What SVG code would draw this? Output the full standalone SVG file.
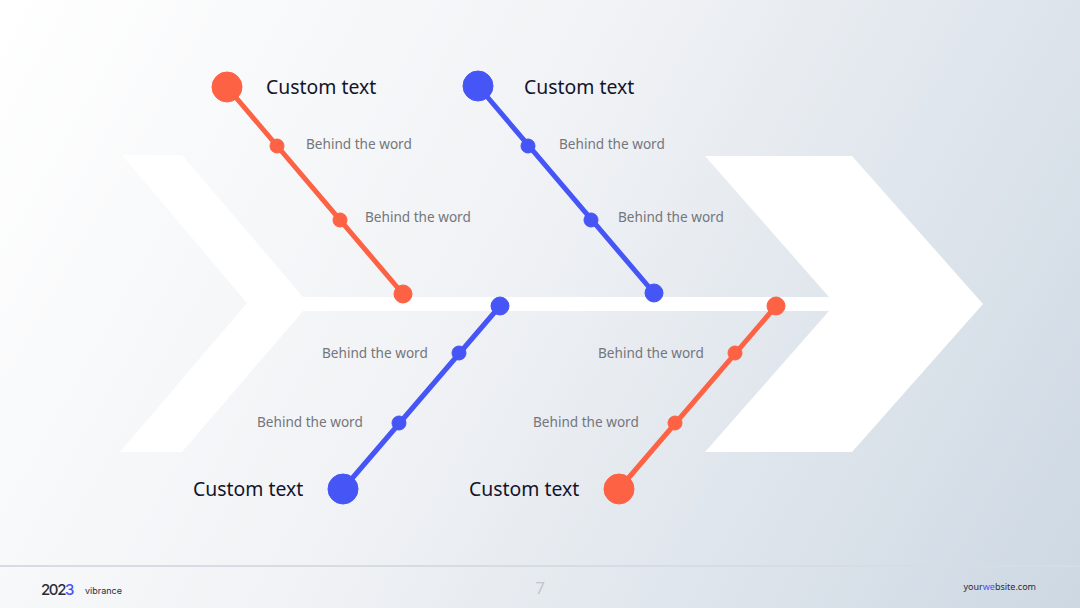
<svg xmlns="http://www.w3.org/2000/svg" width="1080" height="608" viewBox="0 0 1080 608">
<defs>
<linearGradient id="bg" x1="0" y1="0" x2="1080" y2="608" gradientUnits="userSpaceOnUse">
<stop offset="0" stop-color="#ffffff"/>
<stop offset="0.45" stop-color="#f0f2f5"/>
<stop offset="1" stop-color="#cdd8e3"/>
</linearGradient>
<style>
.lbl{font-family:"Noto Sans","Open Sans",sans-serif;font-size:13.6px;fill:#74767c}
.ttl{font-family:"Noto Sans","Open Sans",sans-serif;font-size:19.4px;fill:#14142b}
.o{stroke:#fd6244;fill:#fd6244}
.b{stroke:#4655f5;fill:#4655f5}
.ln{stroke-width:5;stroke-linecap:round}
</style>
</defs>
<rect x="0" y="0" width="1080" height="608" fill="url(#bg)"/>
<polygon points="122,155 182,155 303,297 829,297 705,156 852,156 983,304 852,452 705,452 829,311 303,311 182,452 120,452 247,303" fill="#ffffff"/>
<g id="connectors">
<line class="o ln" x1="227" y1="87" x2="403" y2="294"/>
<line class="b ln" x1="478" y1="86" x2="654" y2="293"/>
<line class="b ln" x1="500" y1="306" x2="343" y2="489"/>
<line class="o ln" x1="776" y1="306" x2="619" y2="489"/>
</g>
<g id="branch-top-orange">
<circle class="o" cx="227" cy="87" r="15"/>
<circle class="o" cx="277" cy="146" r="7"/>
<circle class="o" cx="340" cy="220" r="7"/>
<circle class="o" cx="403" cy="294" r="9"/>
<text class="ttl" x="266" y="94">Custom text</text>
<text class="lbl" x="306" y="149">Behind the word</text>
<text class="lbl" x="365" y="222">Behind the word</text>
</g>
<g id="branch-top-blue">
<circle class="b" cx="478" cy="86" r="15"/>
<circle class="b" cx="528" cy="146" r="7"/>
<circle class="b" cx="591" cy="220" r="7"/>
<circle class="b" cx="654" cy="293" r="9"/>
<text class="ttl" x="524" y="94">Custom text</text>
<text class="lbl" x="559" y="149">Behind the word</text>
<text class="lbl" x="618" y="222">Behind the word</text>
</g>
<g id="branch-bottom-blue">
<circle class="b" cx="500" cy="306" r="9"/>
<circle class="b" cx="459" cy="353" r="7"/>
<circle class="b" cx="399" cy="423" r="7"/>
<circle class="b" cx="343" cy="489" r="15"/>
<text class="lbl" x="322" y="358">Behind the word</text>
<text class="lbl" x="257" y="427">Behind the word</text>
<text class="ttl" x="193" y="496">Custom text</text>
</g>
<g id="branch-bottom-orange">
<circle class="o" cx="776" cy="306" r="9"/>
<circle class="o" cx="735" cy="353" r="7"/>
<circle class="o" cx="675" cy="423" r="7"/>
<circle class="o" cx="619" cy="489" r="15"/>
<text class="lbl" x="598" y="358">Behind the word</text>
<text class="lbl" x="533" y="427">Behind the word</text>
<text class="ttl" x="469" y="496">Custom text</text>
</g>
<g id="footer">
<line x1="0" y1="566" x2="1080" y2="566" stroke="#d5dce4" stroke-width="2"/>
<text x="41" y="595" font-family="Inter,'Noto Sans',sans-serif" font-size="15" font-weight="500" letter-spacing="-1.4" fill="#2a2c38">202<tspan fill="#4655f5">3</tspan></text>
<text x="85" y="594" font-family="Inter,'Noto Sans',sans-serif" font-size="9" fill="#2a2c38">vibrance</text>
<text x="540" y="594" text-anchor="middle" font-family="'Noto Sans',sans-serif" font-size="17" fill="#c2c6cc">7</text>
<text x="1036" y="590" text-anchor="end" font-family="'Noto Sans',sans-serif" font-size="9" fill="#2a2c38">your<tspan fill="#4655f5">we</tspan>bsite.com</text>
</g>
</svg>
